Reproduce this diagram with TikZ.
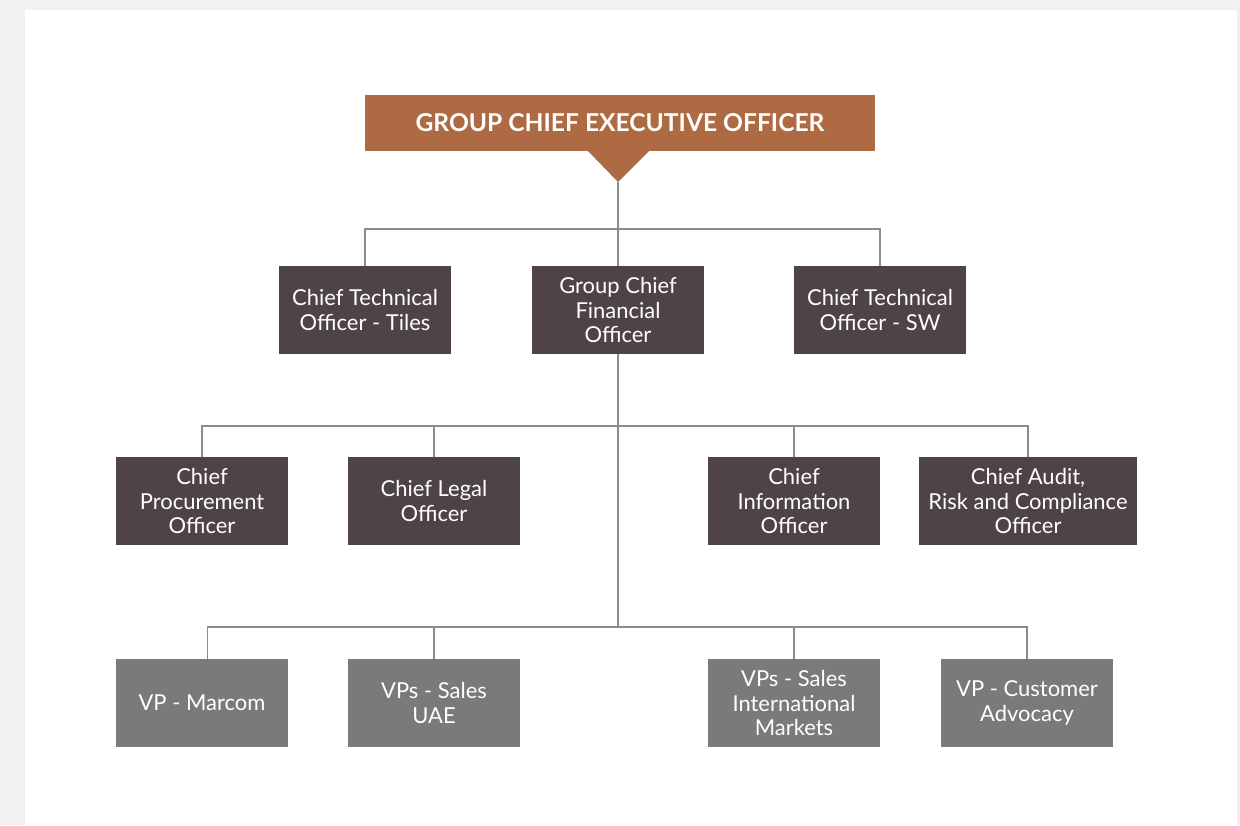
\documentclass[tikz,border=0pt]{standalone}
\usepackage{fontspec}
\setmainfont{Lato}
\usetikzlibrary{positioning}

\definecolor{ceobrown}{HTML}{AD6A43}
\definecolor{chiefgrey}{HTML}{4E4347}
\definecolor{vpgrey}{HTML}{7B7A78}
\definecolor{linegrey}{HTML}{8C8C8C}
\definecolor{pagegrey}{HTML}{F2F0F0}

\begin{document}
\begin{tikzpicture}[x=0.02cm, y=-0.02cm,
    chief/.style={rectangle, fill=chiefgrey, text=white, align=center, minimum width=3.44cm, minimum height=1.76cm, inner sep=0pt, font=\fontsize{12.5}{14.2}\selectfont},
    vp/.style={chief, fill=vpgrey},
    link/.style={draw=linegrey, line width=0.6pt}]

    % page and panel
    \fill[pagegrey] (0,0) rectangle (1240,825);
    \fill[white] (25,10) rectangle (1237,825);
    \useasboundingbox (0,0) rectangle (1240,825);

    % Top box with pointer
    \node[rectangle, fill=ceobrown, text=white, minimum width=10.2cm, minimum height=1.12cm, inner sep=0pt, font=\fontsize{14}{15}\selectfont\bfseries] (ceo) at (620, 123) {GROUP CHIEF EXECUTIVE OFFICER};
    \coordinate (tip) at (618, 182);
    \fill[ceobrown] (587, 150) -- (650, 150) -- (tip) -- cycle;

    % First row
    \node[chief] (ctot) at (365, 310) {Chief Technical\\Officer - Tiles};
    \node[chief] (gcfo) at (618, 310) {Group Chief\\Financial\\Officer};
    \node[chief] (ctos) at (880, 310) {Chief Technical\\Officer - SW};

    % Second row
    \node[chief] (cpo) at (202, 501) {Chief\\Procurement\\Officer};
    \node[chief] (clo) at (434, 501) {Chief Legal\\Officer};
    \node[chief] (cio) at (794, 501) {Chief\\Information\\Officer};
    \node[chief, minimum width=4.38cm] (carco) at (1028, 501) {Chief Audit,\\Risk and Compliance\\Officer};

    % Third row
    \node[vp] (marcom) at (202, 703) {VP - Marcom};
    \node[vp] (uae) at (434, 703) {VPs - Sales\\UAE};
    \node[vp] (intl) at (794, 703) {VPs - Sales\\International\\Markets};
    \node[vp] (cust) at (1027, 703) {VP - Customer\\Advocacy};

    % Bus points
    \coordinate (busa) at (618, 229);
    \coordinate (busb) at (618, 426);
    \coordinate (busc) at (618, 627);

    % Edges from the top box
    \draw[link] (tip) -- (busa);
    \draw[link] (ctot.north) |- (busa) -| (ctos.north);
    \draw[link] (busa) -- (gcfo.north);
    % Edges from the finance box
    \draw[link] (gcfo.south) -- (busc);
    \draw[link] (cpo.north) |- (busb) -| (carco.north);
    \draw[link] (clo.north) -- (clo.north |- busb);
    \draw[link] (cio.north) -- (cio.north |- busb);
    \draw[link] ([xshift=3]marcom.north) |- (busc) -| (cust.north);
    \draw[link] (uae.north) -- (uae.north |- busc);
    \draw[link] (intl.north) -- (intl.north |- busc);
\end{tikzpicture}
\end{document}
